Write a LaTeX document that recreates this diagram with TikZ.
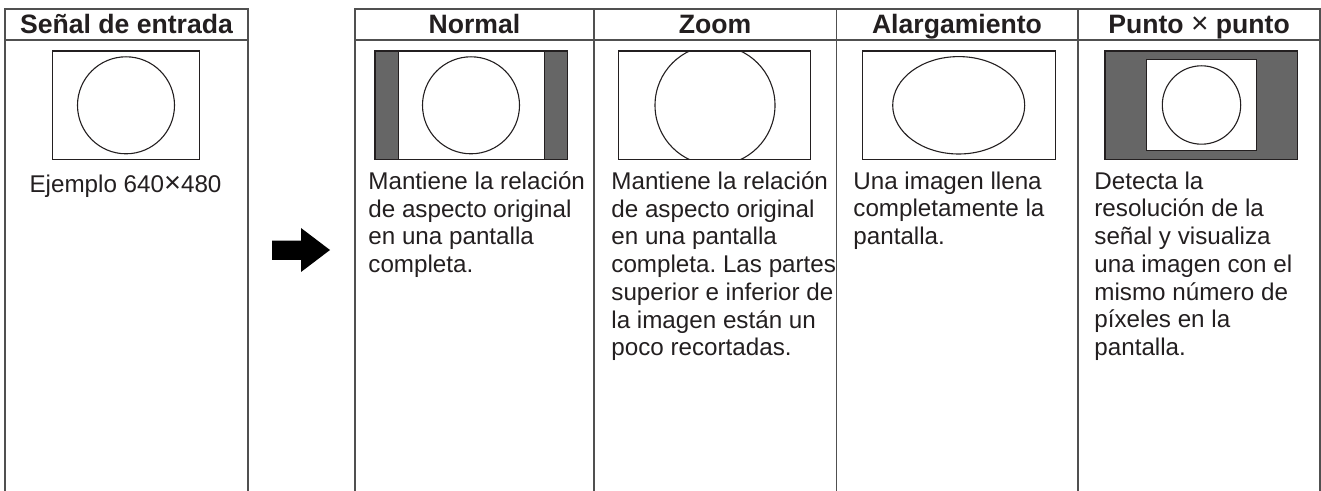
\documentclass[tikz,border=0pt]{standalone}
\usepackage{fontspec}
\setmainfont{Liberation Sans}
\usetikzlibrary{positioning}
\definecolor{ink}{HTML}{231F20}
\definecolor{rule}{HTML}{505050}
\definecolor{bar}{HTML}{666666}
\frenchspacing

\begin{document}
\begin{tikzpicture}[
    x=0.5pt, y=-0.5pt,
    frame/.style={draw=rule, line width=0.7pt},
    screen/.style={draw=ink, line width=0.55pt},
    shade/.style={fill=bar, draw=ink, line width=0.55pt},
    head/.style={font=\fontsize{13.3}{15}\selectfont\bfseries, text=ink, inner sep=0pt, anchor=base},
    body/.style={font=\fontsize{12.1}{13.85}\selectfont, text=ink, inner sep=0pt, anchor=north west, align=left, execute at begin node=\strut}
]
    \useasboundingbox (0,0) rectangle (1321,491);

    % Table frame
    \draw[frame] (5,491) -- (5,9) -- (248,9) -- (248,491);
    \draw[frame] (5,40) -- (248,40);
    \draw[frame] (355,491) -- (355,9) -- (1320,9) -- (1320,491);
    \draw[frame] (355,40) -- (1320,40);
    \foreach \xc in {594,836.5,1078} \draw[frame] (\xc,9) -- (\xc,491);

    % Headers
    \node[head] (h_in) at (126.5,34) {Señal de entrada};
    \node[head] (h_norm) at (474.5,34) {Normal};
    \node[head] (h_zoom) at (715,34) {Zoom};
    \node[head] (h_full) at (957,34) {Alargamiento};
    \node[head] (h_dot) at (1199,34) {Punto {\mdseries\fontsize{15}{15}\selectfont ×} punto};

    % Input signal
    \draw[screen] (52.7,51) rectangle (199.3,159.3);
    \draw[screen] (126,105.3) circle[radius=48.5];
    \node[body, anchor=base, execute at begin node={}] (t_in) at (125.5,193) {Ejemplo 640{\fontsize{14.5}{14.5}\selectfont ×}480};

    % Arrow
    \fill[black] (272,240.7) -- (301,240.7) -- (301,228) -- (330,250) -- (301,272) -- (301,260) -- (272,260) -- cycle;

    % Normal
    \draw[screen] (375,51) rectangle (567.3,159.3);
    \draw[shade] (375,51) rectangle (398.3,159.3);
    \draw[shade] (544.3,51) rectangle (567.3,159.3);
    \draw[screen] (471,105.3) circle[radius=48.5];
    \node[body] (t_norm) at (368,171.3) {Mantiene la relación\\de aspecto original\\en una pantalla\\completa.};

    % Zoom
    \begin{scope}
        \clip (618.3,51) rectangle (810.3,159.3);
        \draw[screen] (715,105.3) circle[radius=60];
    \end{scope}
    \draw[screen] (618.3,51) rectangle (810.3,159.3);
    \node[body] (t_zoom) at (611,171.3) {Mantiene la relación\\de aspecto original\\en una pantalla\\completa. Las partes\\superior e inferior de\\la imagen están un\\poco recortadas.};

    % Stretch
    \draw[screen] (862.7,51) rectangle (1055.3,159.3);
    \draw[screen] (958.7,105.3) ellipse[x radius=66, y radius=48.7];
    \node[body] (t_full) at (853,171.3) {Una imagen llena\\completamente la\\pantalla.};

    % Dot by dot
    \draw[shade] (1105,51) rectangle (1297.7,159.3);
    \draw[screen, fill=white] (1146.3,59.7) rectangle (1256.3,150.3);
    \draw[screen] (1201.5,105) circle[radius=39.2];
    \node[body] (t_dot) at (1094,171.3) {Detecta la\\resolución de la\\señal y visualiza\\una imagen con el\\mismo número de\\píxeles en la\\pantalla.};
\end{tikzpicture}
\end{document}
